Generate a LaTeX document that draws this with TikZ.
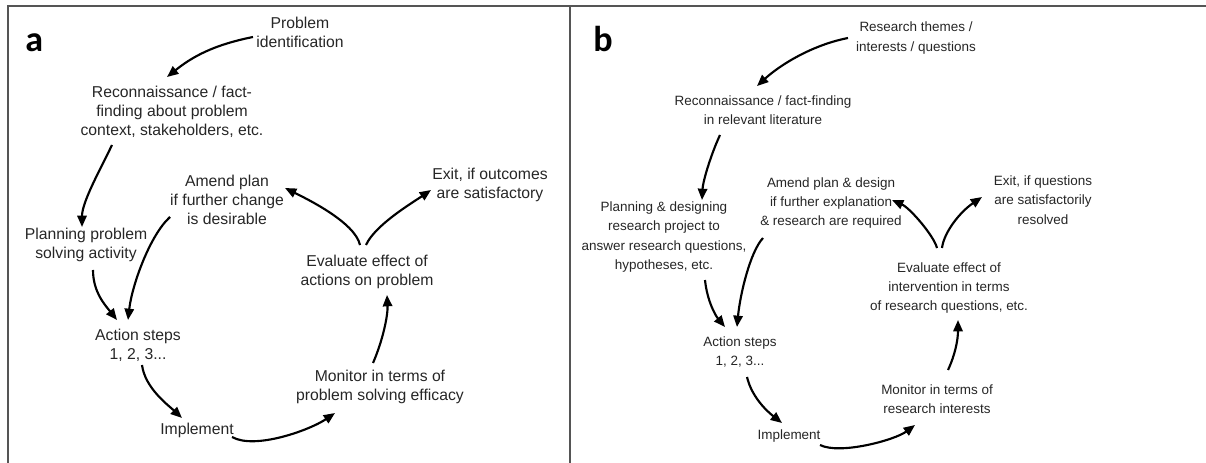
\documentclass[tikz,border=0pt]{standalone}
\usepackage{fontspec}
\setmainfont{Liberation Sans}
\newfontfamily\labfont{Carlito}
\usetikzlibrary{arrows.meta,calc}
\definecolor{txt}{HTML}{262626}
\definecolor{frm}{HTML}{555555}
\tikzset{
  lbla/.style={align=center,inner sep=0pt,text=txt,font=\fontsize{11.8}{14.3}\selectfont},
  lblb/.style={align=center,inner sep=0pt,text=txt,font=\fontsize{10.1}{14.6}\selectfont},
  panel/.style={anchor=base west,inner sep=0pt,font=\labfont\bfseries\fontsize{27}{30}\selectfont},
  arr/.style={line width=1.6pt,-{Triangle[length=8.5pt,width=7pt]}},
  frame/.style={draw=frm,line width=1.5pt}
}
\begin{document}
\begin{tikzpicture}[x=0.75pt,y=-0.75pt]
\useasboundingbox (0,0) rectangle (1206,463);
% frame
\draw[frame] (8,463) -- (8,6) -- (1206,6);
\draw[frame] (570,6) -- (570,463);
% panel labels
\node[panel] (la) at (25,52) {a};
\node[panel] (lb) at (593,52) {b};
% ---------- panel a ----------
\node[lbla] (pa)  at (300,32)  {Problem\\identification};
\node[lbla] (ra)  at (172,112) {Reconnaissance / fact-\\finding about problem\\context, stakeholders, etc.};
\node[lbla] (aa)  at (227,200) {Amend plan\\if further change\\is desirable};
\node[lbla] (ea)  at (490,185) {Exit, if outcomes\\are satisfactory};
\node[lbla] (pla) at (86,245)  {Planning problem\\solving activity};
\node[lbla] (eva) at (367,272) {Evaluate effect of\\actions on problem};
\node[lbla] (ac)  at (138,345) {Action steps\\1, 2, 3...};
\node[lbla] (mo)  at (380,387) {Monitor in terms of\\problem solving efficacy};
\node[lbla] (im)  at (197,430) {Implement};

\draw[arr] ($(pa)+(-47,5)$) .. controls (213,45) and (192,57) .. ($(ra)+(-5,-35)$);
\draw[arr] ($(ra)+(-60,33)$) .. controls (100,170) and (82,202) .. ($(pla)+(-4,-18)$);
\draw[arr] ($(eva)+(-7,-27)$) .. controls (355,222) and (305,198) .. ($(aa)+(58,-12)$);
\draw[arr] ($(eva)+(-1,-27)$) .. controls (375,225) and (412,203) .. ($(ea)+(-59,5)$);
\draw[arr] ($(aa)+(-57,17)$) .. controls (150,235) and (132,285) .. ($(ac)+(-10,-25)$);
\draw[arr] ($(pla)+(7,25)$) .. controls (93,292) and (105,305) .. ($(ac)+(-21,-25)$);
\draw[arr] ($(ac)+(4,20)$) .. controls (145,388) and (168,405) .. ($(im)+(-15,-12)$);
\draw[arr] ($(im)+(35,7)$) .. controls (255,450) and (310,430) .. ($(mo)+(-45,26)$);
\draw[arr] ($(mo)+(-7,-24)$) .. controls (383,340) and (388,315) .. ($(eva)+(20,23)$);
% ---------- panel b ----------
\node[lblb] (pb)  at (916,38)  {Research themes /\\interests / questions};
\node[lblb] (rb)  at (763,110) {Reconnaissance / fact-finding\\in relevant literature};
\node[lblb] (amb) at (831,203) {Amend plan \& design\\if further explanation\\\& research are required};
\node[lblb] (exb) at (1043,200) {Exit, if questions\\are satisfactorily\\resolved};
\node[lblb] (plb) at (664,237) {Planning \& designing\\research project to\\answer research questions,\\hypotheses, etc.};
\node[lblb] (evb) at (949,288) {Evaluate effect of\\intervention in terms\\of research questions, etc.};
\node[lblb] (acb) at (740,352) {Action steps\\1, 2, 3...};
\node[lblb] (mob) at (937,399) {Monitor in terms of\\research interests};
\node[lblb] (imb) at (789,436) {Implement};

\draw[arr] ($(pb)+(-68,0)$) .. controls (812,45) and (780,65) .. ($(rb)+(-6,-24)$);
\draw[arr] ($(rb)+(-43,25)$) .. controls (712,152) and (703,180) .. ($(plb)+(38,-37)$);
\draw[arr] ($(evb)+(-12,-40)$) .. controls (934,236) and (910,208) .. ($(amb)+(61,-3)$);
\draw[arr] ($(evb)+(-7,-40)$) .. controls (944,232) and (960,212) .. ($(exb)+(-61,-3)$);
\draw[arr] ($(plb)+(41,43)$) .. controls (707,300) and (715,315) .. ($(acb)+(-15,-25)$);
\draw[arr] ($(amb)+(-68,35)$) .. controls (750,252) and (740,295) .. ($(acb)+(-3,-25)$);
\draw[arr] ($(acb)+(7,25)$) .. controls (752,398) and (768,412) .. ($(imb)+(-7,-13)$);
\draw[arr] ($(imb)+(31,9)$) .. controls (840,455) and (895,440) .. ($(mob)+(-22,26)$);
\draw[arr] ($(mob)+(11,-29)$) .. controls (955,355) and (958,340) .. ($(evb)+(9,32)$);
\end{tikzpicture}
\end{document}
